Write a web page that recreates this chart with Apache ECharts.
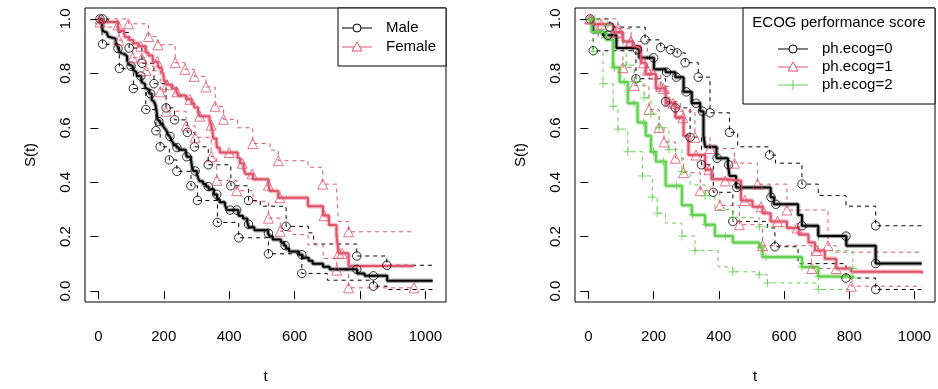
<!DOCTYPE html>
<html><head><meta charset="utf-8">
<script src="https://cdn.jsdelivr.net/npm/echarts@6/dist/echarts.min.js"></script>
<style>html,body{margin:0;padding:0;background:#fff}#c{width:938px;height:389px}</style>
</head><body><div id="c"></div>
<script>
// ---------- Panel 1: by sex ----------
const maleT = [0,11,12,13,15,26,30,31,53,54,59,60,65,71,81,88,92,93,95,105,107,110,116,118,131,132,135,142,144,147,156,163,166,170,175,176,177,179,180,181,183,189,197,202,207,210,212,218,222,223,229,230,239,246,267,269,270,283,284,285,286,288,291,301,303,306,310,320,329,337,353,363,364,371,387,390,394,428,429,442,455,457,460,477,519,524,533,558,567,574,583,613,624,643,655,687,707,791,814,883,1022];
const maleS = [1,0.9783,0.971,0.9565,0.9493,0.942,0.9348,0.9275,0.913,0.9058,0.8986,0.8913,0.8768,0.8696,0.8623,0.8478,0.8406,0.8333,0.8261,0.8188,0.8116,0.8043,0.7971,0.7899,0.7826,0.7681,0.7609,0.7536,0.7464,0.7391,0.7246,0.7029,0.6957,0.6884,0.6811,0.6738,0.6664,0.6518,0.6445,0.6298,0.6225,0.615,0.6073,0.5995,0.5917,0.5839,0.5762,0.5684,0.5605,0.5525,0.5442,0.536,0.5276,0.5192,0.5107,0.5022,0.4937,0.485,0.4764,0.4676,0.4587,0.4499,0.4411,0.4319,0.4225,0.4129,0.4033,0.3937,0.3841,0.3745,0.3553,0.3457,0.3361,0.3265,0.3169,0.3073,0.2977,0.2874,0.2771,0.2669,0.2562,0.2455,0.2344,0.2232,0.212,0.2009,0.1897,0.1785,0.1674,0.1562,0.1451,0.1339,0.1228,0.1116,0.1004,0.0893,0.08,0.065,0.056,0.038,0.038];
const maleUpT = [0,30,60,94,133,170,207,233,272,294,336,405,459,495,546,574,642,658,790,882,1022];
const maleUpS = [1,0.99,0.95,0.893,0.837,0.762,0.673,0.629,0.583,0.53,0.464,0.387,0.333,0.312,0.312,0.238,0.214,0.173,0.129,0.095,0.095];
const maleLoT = [0,11,13,64,107,145,176,189,217,240,283,303,364,429,520,622,700,841,883,1022];
const maleLoS = [1,0.95,0.907,0.818,0.744,0.667,0.589,0.53,0.482,0.44,0.387,0.333,0.252,0.196,0.137,0.065,0.04,0.018,0.006,0.006];
const femT = [0,5,60,61,62,79,81,95,107,122,145,153,166,167,182,186,194,199,201,208,226,239,245,268,285,293,305,310,340,345,348,350,351,361,363,371,426,433,444,450,473,520,524,550,641,687,705,728,731,735,765,965];
const femS = [1,0.9889,0.9778,0.9667,0.9556,0.9444,0.9333,0.9221,0.9107,0.8993,0.8766,0.8652,0.8538,0.8424,0.8305,0.8187,0.8066,0.7946,0.7705,0.7581,0.7452,0.7322,0.7186,0.7045,0.6895,0.6742,0.6585,0.6428,0.6264,0.6099,0.5934,0.5769,0.5604,0.5434,0.5265,0.5089,0.4893,0.4698,0.4502,0.4306,0.411,0.3894,0.3678,0.3433,0.3121,0.2774,0.2427,0.208,0.1734,0.1387,0.0925,0.0925];
const femUpT = [0,60,92,153,182,235,265,293,329,357,383,426,472,525,550,627,641,686,729,734,765,965];
const femUpS = [1,1,0.982,0.935,0.905,0.839,0.815,0.789,0.75,0.679,0.631,0.6,0.542,0.518,0.479,0.479,0.455,0.393,0.357,0.256,0.218,0.218];
const femLoT = [0,5,63,105,145,189,207,268,296,345,362,423,473,520,556,596,641,687,729,765,965];
const femLoS = [1,0.97,0.922,0.857,0.81,0.732,0.661,0.607,0.565,0.494,0.407,0.369,0.33,0.268,0.22,0.208,0.17,0.12,0.077,0.012,0.012];
// marker times (markers sit on the curves)
const maleMk = [5,60,100,130,160,185,219,240,270,296,336,362,403,423,459,520,571,622,790,841];
const maleUpMk = [13,94,133,170,207,233,272,294,336,405,459,574,790,882];
const maleLoMk = [13,64,107,145,176,189,217,240,283,303,364,429,520,622,841];
const femMk = [5,60,130,180,210,240,280,310,345,400,440,470,520,555,690,735,745];
const femUpMk = [5,92,153,182,235,265,293,329,357,383,472,550,686,765];
const femLoMk = [63,105,133,146,189,207,268,296,345,362,423,520,556,729,765,965];

// ---------- Panel 2: by ph.ecog ----------
const e0T = [0,15,45,86,146,156,201,237,267,292,317,343,353,358,393,428,433,453,559,569,643,655,705,791,881,1022];
const e0S = [1,0.952,0.94,0.893,0.887,0.857,0.815,0.804,0.786,0.732,0.69,0.661,0.571,0.53,0.488,0.464,0.423,0.381,0.345,0.319,0.28,0.24,0.202,0.167,0.101,0.101];
const e0UpT = [0,66,174,222,252,272,297,337,373,433,458,556,574,655,705,790,881,1022];
const e0UpS = [1,0.97,0.923,0.895,0.887,0.875,0.839,0.786,0.655,0.583,0.53,0.5,0.47,0.393,0.351,0.312,0.24,0.24];
const e0LoT = [0,15,146,237,267,312,347,383,443,549,572,643,790,881,1022];
const e0LoS = [1,0.883,0.78,0.696,0.673,0.565,0.464,0.363,0.256,0.232,0.163,0.101,0.048,0.006,0.006];
const e1T = [0,10,76,106,136,161,176,207,237,267,292,307,358,378,418,468,503,534,559,609,645,675,695,725,760,806,1022];
const e1S = [1,0.98,0.952,0.917,0.899,0.839,0.798,0.744,0.69,0.637,0.571,0.5,0.446,0.411,0.405,0.333,0.31,0.286,0.256,0.232,0.208,0.179,0.149,0.119,0.083,0.071,0.065];
const e1UpT = [0,91,131,181,222,247,282,327,373,448,519,609,735,760,1022];
const e1UpS = [1,0.964,0.917,0.812,0.752,0.696,0.661,0.565,0.524,0.47,0.393,0.298,0.167,0.143,0.143];
const e1LoT = [0,30,106,141,186,217,232,267,292,343,403,463,534,685,806,1022];
const e1LoS = [1,0.93,0.821,0.756,0.667,0.601,0.548,0.488,0.435,0.369,0.315,0.244,0.167,0.083,0.018,0.018];
const e2T = [0,10,55,76,96,121,151,176,192,207,237,287,317,358,388,443,524,534,655,705,811];
const e2S = [1,0.952,0.923,0.821,0.768,0.69,0.619,0.571,0.512,0.476,0.387,0.315,0.28,0.244,0.202,0.179,0.161,0.125,0.089,0.054,0.048];
const e2UpT = [0,30,76,116,141,171,192,217,247,287,312,358,388,443,524,705,811];
const e2UpS = [1,0.98,0.92,0.83,0.77,0.71,0.65,0.6,0.52,0.44,0.39,0.35,0.3,0.27,0.236,0.149,0.083];
const e2LoT = [0,15,45,76,91,121,166,196,211,237,287,327,398,443,524,549,705,811];
const e2LoS = [1,0.88,0.762,0.679,0.595,0.512,0.423,0.345,0.286,0.25,0.202,0.149,0.089,0.071,0.06,0.03,0.006,0.006];
const e0Mk = [5,60,150,200,240,270,300,330,350,395,430,455,560,575,655,790,881];
const e0UpMk = [66,174,222,252,272,297,337,373,433,556,655,881];
const e0LoMk = [15,146,237,267,312,347,383,443,572,790,881];
const e1Mk = [5,40,90,130,170,200,230,260,290,330,370,420,480,530,580,640,700,760];
const e1UpMk = [5,91,131,181,222,247,282,327,373,448,519,609,735];
const e1LoMk = [106,141,186,217,232,267,292,343,403,463,534,685,806];
const e2Mk = [5,40,80,110,140,170,200,230,270,320,360,420,530,545,655,705,811];
const e2UpMk = [20,60,116,141,171,192,217,247,287,358,443,524,811];
const e2LoMk = [15,45,76,91,121,166,196,211,287,327,443,524,549,705];

const xTicks = [0,200,400,600,800,1000];
const yTicks = [0,0.2,0.4,0.6,0.8,1.0];

const BLACK = '#000000', RED = '#DF536B', GREEN = '#61D04F';
const SOFT = {'#000000':'rgba(0,0,0,0.35)', '#DF536B':'rgba(223,83,107,0.4)', '#61D04F':'rgba(97,208,79,0.45)'};
const FONT = 'Liberation Sans, Arial, Helvetica, sans-serif';

function lookup(ts, ss, t){ let v = ss[0]; for(let i=0;i<ts.length;i++){ if(ts[i] <= t) v = ss[i]; } return v; }
function stepLine(ax, ts, ss, color, dashed, width, z){
  return {type:'line', xAxisIndex:ax, yAxisIndex:ax, step:'end', showSymbol:false, silent:true,
    data: ts.map((t,i)=>[t,ss[i]]), lineStyle:{color:color, width:width, type: dashed?[4,4]:'solid'}, z: z};
}
const PLUS = 'path://M0,-5L0,5M-5,0L5,0';
function markers(ax, ts, ss, mk, color, sym){
  return {type:'scatter', xAxisIndex:ax, yAxisIndex:ax, silent:true, symbol:sym, symbolSize: sym==='triangle'?10:8.5,
    data: mk.map(t=>[t, lookup(ts, ss, t)]),
    itemStyle:{color:'rgba(0,0,0,0)', borderColor:color, borderWidth:1}, z:4};
}
function group(ax, T,S,UT,US,LT,LS,mk,umk,lmk,color,sym){
  return [stepLine(ax,UT,US,color,true,1,2), stepLine(ax,LT,LS,color,true,1,2),
    stepLine(ax,T,S,SOFT[color],false,4.5,3), stepLine(ax,T,S,color,false,2,3),
    markers(ax,T,S,mk,color,sym), markers(ax,UT,US,umk,color,sym), markers(ax,LT,LS,lmk,color,sym)];
}
function xAxis(gi, max){
  return {type:'value', gridIndex:gi, min:-0.04*max, max:1.04*max, name:'t', nameLocation:'middle', nameGap:67,
    nameTextStyle:{fontFamily:FONT, fontSize:15, color:'#000'},
    axisLine:{show:false}, splitLine:{show:false},
    axisTick:{show:true, length:8, customValues:xTicks, lineStyle:{color:'#000'}},
    axisLabel:{customValues:xTicks, margin:27, fontFamily:FONT, fontSize:15, color:'#000', formatter:v=>String(v)}};
}
function yAxis(gi){
  return {type:'value', gridIndex:gi, min:-0.04, max:1.04, name:'S(t)', nameLocation:'middle', nameGap:47, nameRotate:90,
    nameTextStyle:{fontFamily:FONT, fontSize:15, color:'#000'},
    axisLine:{show:false}, splitLine:{show:false},
    axisTick:{show:true, length:8, customValues:yTicks, lineStyle:{color:'#000'}},
    axisLabel:{customValues:yTicks, rotate:90, margin:12, fontFamily:FONT, fontSize:15, color:'#000', formatter:v=>v.toFixed(1)}};
}
function legendLine(x1,x2,y,color,sym){
  const out = [{type:'line', shape:{x1:x1,y1:y,x2:x2,y2:y}, style:{stroke:color, lineWidth:1}}];
  const cx=(x1+x2)/2;
  if(sym==='circle') out.push({type:'circle', shape:{cx:cx,cy:y,r:4}, style:{fill:'#fff', stroke:color, lineWidth:1}});
  if(sym==='triangle') out.push({type:'polygon', shape:{points:[[cx,y-5],[cx-5,y+4],[cx+5,y+4]]}, style:{fill:'#fff', stroke:color, lineWidth:1}});
  if(sym==='plus') out.push({type:'polyline', shape:{points:[[cx,y-5],[cx,y+5]]}, style:{stroke:color, lineWidth:1}});
  return out;
}
const txt = (x,y,s,align)=>({type:'text', x:x, y:y, style:{text:s, fill:'#000', font:'15px '+FONT, textAlign:align||'left', textVerticalAlign:'middle'}});

const chart = echarts.init(document.getElementById('c'), null, {renderer:'canvas'});
chart.setOption({
  animation:false,
  backgroundColor:'#fff',
  grid:[{left:85, top:8, width:361, height:303, show:true, borderColor:'#000', borderWidth:1, backgroundColor:'transparent'},
        {left:575, top:8, width:360, height:303, show:true, borderColor:'#000', borderWidth:1, backgroundColor:'transparent'}],
  xAxis:[xAxis(0,1022), xAxis(1,1022)],
  yAxis:[yAxis(0), yAxis(1)],
  series:[].concat(
    group(0, maleT,maleS,maleUpT,maleUpS,maleLoT,maleLoS,maleMk,maleUpMk,maleLoMk,BLACK,'circle'),
    group(0, femT,femS,femUpT,femUpS,femLoT,femLoS,femMk,femUpMk,femLoMk,RED,'triangle'),
    group(1, e0T,e0S,e0UpT,e0UpS,e0LoT,e0LoS,e0Mk,e0UpMk,e0LoMk,BLACK,'circle'),
    group(1, e1T,e1S,e1UpT,e1UpS,e1LoT,e1LoS,e1Mk,e1UpMk,e1LoMk,RED,'triangle'),
    group(1, e2T,e2S,e2UpT,e2UpS,e2LoT,e2LoS,e2Mk,e2UpMk,e2LoMk,GREEN,PLUS)
  ),
  graphic:[].concat(
    [{type:'rect', shape:{x:338,y:8,width:108,height:58}, style:{fill:'#fff', stroke:'#000', lineWidth:1}, z:10}],
    legendLine(342,372,28,BLACK,'circle').map(e=>Object.assign(e,{z:11})),
    legendLine(342,372,47,RED,'triangle').map(e=>Object.assign(e,{z:11})),
    [Object.assign(txt(386,28,'Male'),{z:11}), Object.assign(txt(386,47,'Female'),{z:11})],
    [{type:'rect', shape:{x:743,y:8,width:192,height:96}, style:{fill:'#fff', stroke:'#000', lineWidth:1}, z:10}],
    [Object.assign(txt(839,23,'ECOG performance score','center'),{z:11})],
    legendLine(778,808,49,BLACK,'circle').map(e=>Object.assign(e,{z:11})),
    legendLine(778,808,67,RED,'triangle').map(e=>Object.assign(e,{z:11})),
    legendLine(778,808,85,GREEN,'plus').map(e=>Object.assign(e,{z:11})),
    [Object.assign(txt(822,49,'ph.ecog=0'),{z:11}), Object.assign(txt(822,67,'ph.ecog=1'),{z:11}), Object.assign(txt(822,85,'ph.ecog=2'),{z:11})]
  )
});
</script></body></html>
